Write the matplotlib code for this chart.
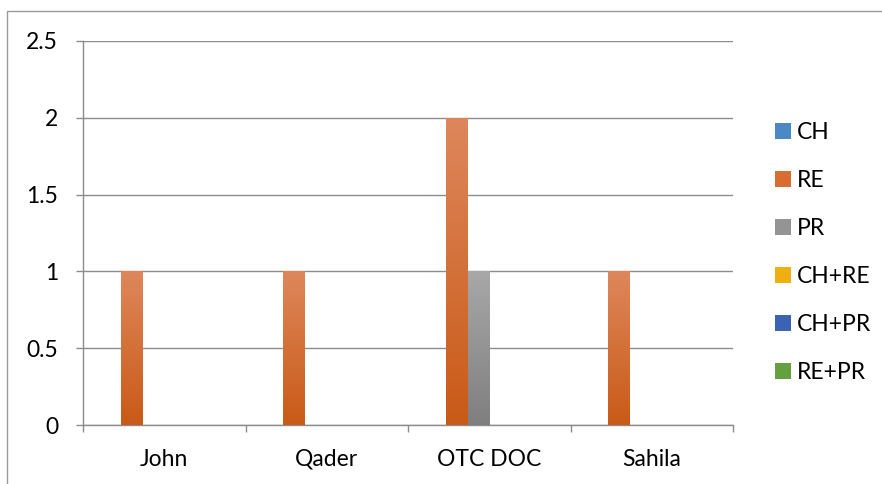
import matplotlib
matplotlib.use("Agg")
import matplotlib.pyplot as plt
import numpy as np
from matplotlib.colors import LinearSegmentedColormap
from matplotlib.lines import Line2D
from matplotlib.patches import Patch

categories = ["John", "Qader", "OTC DOC", "Sahila"]
series_names = ["CH", "RE", "PR", "CH+RE", "CH+PR", "RE+PR"]
CH = [0, 0, 0, 0]
RE = [1, 1, 2, 1]
PR = [0, 0, 1, 0]
CH_RE = [0, 0, 0, 0]
CH_PR = [0, 0, 0, 0]
RE_PR = [0, 0, 0, 0]
values = [CH, RE, PR, CH_RE, CH_PR, RE_PR]

# gradient (top, bottom) colours per series
grads = [("#6aa0d8", "#3a78b8"),
         ("#de875c", "#c95a17"),
         ("#a8a8a8", "#7f7f7f"),
         ("#f5c040", "#e0a000"),
         ("#5a80c8", "#2e50a0"),
         ("#78b050", "#4e8a30")]
legend_cols = ["#4a88c6", "#d96c30", "#949494", "#eeb010", "#3c62b4", "#62a040"]

plt.rcParams['font.family'] = ['Lato', 'DejaVu Sans']
FS = 16.5

W, H = 882, 484
fig = plt.figure(figsize=(W / 100, H / 100), dpi=100)
ax = fig.add_axes([83 / W, (H - 425) / H, (733 - 83) / W, (425 - 41) / H])

n = len(series_names)
gap = 1.5
bw = 1.0 / (n + gap)
x = np.arange(len(categories))
for i, (name, vals) in enumerate(zip(series_names, values)):
    offs = -0.5 + bw * gap / 2 + bw * i + bw / 2
    bars = ax.bar(x + offs, vals, width=bw, color=grads[i][1], linewidth=0, zorder=3)
    cmap = LinearSegmentedColormap.from_list(name, [grads[i][1], grads[i][0]])
    for b in bars:
        h = b.get_height()
        if h <= 0:
            continue
        x0 = b.get_x()
        grad = np.linspace(0, 1, 256).reshape(-1, 1)
        im = ax.imshow(grad, cmap=cmap, aspect='auto', origin='lower',
                       extent=[x0, x0 + b.get_width(), 0, h], zorder=4)
        im.set_clip_path(b)

ax.set_xlim(-0.5, len(categories) - 0.5)
ax.set_ylim(0, 2.5)
ax.set_yticks([0, 0.5, 1, 1.5, 2, 2.5])
ax.set_yticklabels(["0", "0.5", "1", "1.5", "2", "2.5"])
ax.yaxis.grid(True, color="#8c8c8c", linewidth=1)
ax.set_axisbelow(True)

ax.set_xticks(np.arange(len(categories) + 1) - 0.5)
ax.set_xticklabels([])
ax.set_xticks(x, minor=True)
ax.set_xticklabels(categories, minor=True)
ax.tick_params(axis='x', which='major', length=5, direction='out', color="#8c8c8c", width=1)
ax.tick_params(axis='x', which='minor', length=0, pad=17, labelsize=FS, labelcolor="#000000")
ax.tick_params(axis='y', length=5, direction='out', color="#8c8c8c", width=1, pad=13,
               labelsize=FS, labelcolor="#000000")

for s in ["top", "right"]:
    ax.spines[s].set_visible(False)
for s in ["left", "bottom"]:
    ax.spines[s].set_color("#8c8c8c")
    ax.spines[s].set_linewidth(1)

handles = [Patch(facecolor=legend_cols[i], edgecolor='none') for i in range(n)]
fig.legend(handles, series_names, loc='upper left', bbox_to_anchor=(775 / W, 1 - 122 / H),
           frameon=False, fontsize=FS, handlelength=0.7, handleheight=0.7,
           handletextpad=0.27, labelspacing=1.18, borderpad=0, borderaxespad=0)

fig.add_artist(Line2D([7 / W, 7 / W, 1], [0, 1 - 11 / H, 1 - 11 / H],
                      transform=fig.transFigure, color="#9a9a9a", linewidth=1))

fig.savefig("out.png", dpi=100)
